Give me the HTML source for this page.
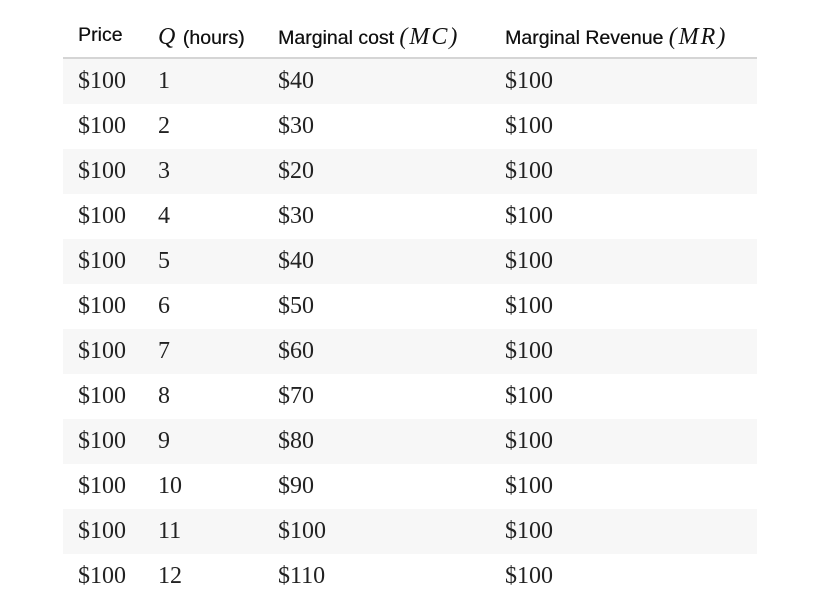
<!DOCTYPE html>
<html><head><meta charset="utf-8"><style>
body{margin:0;width:829px;height:606px;background:#fff;overflow:hidden;position:relative}
.h{position:absolute;top:24px;font:19.5px "Liberation Sans",sans-serif;color:#111;white-space:nowrap;text-shadow:0.3px 0 0 #111}
.h i{font-family:"Liberation Serif",serif;font-size:24px;letter-spacing:2px;text-shadow:none}
.hl{position:absolute;left:63px;top:57px;width:694px;height:2px;background:#d5d5d5}
.r{position:absolute;left:63px;width:694px;height:45px}
.r.s{background:#f7f7f7}
.c{position:absolute;top:9px;font:24px "Liberation Serif",serif;color:#222}
</style></head><body>
<div>
<div class="h" style="left:78px">Price</div>
<div class="h" style="left:158px"><i>Q</i> (hours)</div>
<div class="h" style="left:278px">Marginal cost <i>(MC)</i></div>
<div class="h" style="left:505px">Marginal Revenue <i>(MR)</i></div>
<div class="hl"></div>
<div id="rows"></div>
</div>
<script>
const price=[100,100,100,100,100,100,100,100,100,100,100,100];
const qty=[1,2,3,4,5,6,7,8,9,10,11,12];
const mc=[40,30,20,30,40,50,60,70,80,90,100,110];
const mr=[100,100,100,100,100,100,100,100,100,100,100,100];
const box=document.getElementById('rows');
for(let i=0;i<qty.length;i++){
  const r=document.createElement('div');
  r.className='r'+(i%2===0?' s':'');
  r.style.top=(59+i*45)+'px';
  
  
  const vals=['$'+price[i],String(qty[i]),'$'+mc[i],'$'+mr[i]];
  const xs=[15,95,215,442];
  const names=['price-cell','quantity-cell','marginal-cost-cell','marginal-revenue-cell'];
  for(let j=0;j<4;j++){
    const c=document.createElement('div');
    c.className='c';c.style.left=xs[j]+'px';c.textContent=vals[j];
    
    
    r.appendChild(c);
  }
  box.appendChild(r);
}
</script>
</body></html>
